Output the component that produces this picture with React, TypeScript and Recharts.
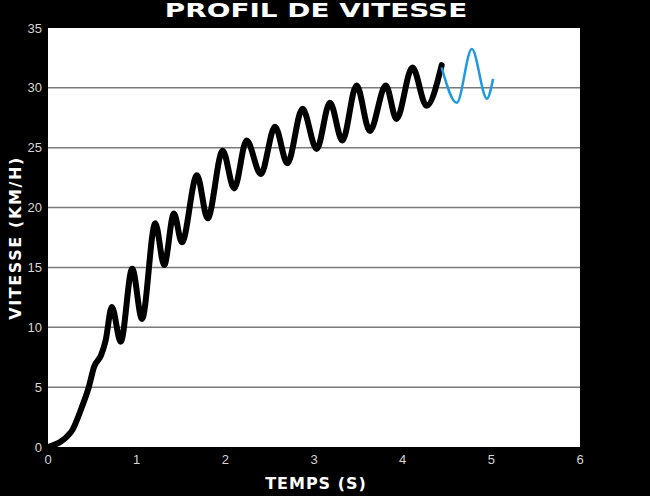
import { CartesianGrid, Line, LineChart, XAxis, YAxis } from "recharts";

// temps (s) / vitesse (km/h)
const mesureTemps = [
  0, 0.26, 0.38, 0.46, 0.52, 0.6, 0.65, 0.72, 0.82, 0.95, 1.06, 1.21, 1.31,
  1.42, 1.51, 1.68, 1.8, 1.97, 2.1, 2.24, 2.4, 2.56, 2.7, 2.87, 3.03, 3.18,
  3.32, 3.48, 3.63, 3.81, 3.93, 4.11, 4.27, 4.44,
];
const mesureVitesse = [
  0, 1.25, 3.3, 5, 6.7, 7.7, 8.9, 11.7, 8.8, 14.9, 10.7, 18.7, 15.2, 19.5,
  17.1, 22.7, 19.1, 24.75, 21.6, 25.6, 22.8, 26.75, 23.7, 28.25, 24.9, 28.75,
  25.6, 30.2, 26.4, 30.2, 27.4, 31.7, 28.5, 31.9,
];

const prevTemps = [4.44, 4.61, 4.78, 4.95, 5.02];
const prevVitesse = [31.7, 28.75, 33.25, 29.1, 30.75];

const xTicks = [0, 1, 2, 3, 4, 5, 6];
const yTicks = [0, 5, 10, 15, 20, 25, 30, 35];
const gridValues = [5, 10, 15, 20, 25, 30];

const mesure = mesureTemps.map((t, i) => ({ t, v: mesureVitesse[i] }));
const prevision = prevTemps.map((t, i) => ({ t, v: prevVitesse[i] }));

const tickStyle = { fill: "#d6d6d6", fontSize: 13, fontFamily: "Liberation Sans, Arial, sans-serif" };
const labelFont = "'DejaVu Sans', Verdana, sans-serif";

export default function App() {
  return (
    <div
      style={{
        position: "absolute",
        left: 0,
        top: 0,
        width: 650,
        height: 496,
        background: "#000",
        overflow: "hidden",
      }}
    >
      <LineChart
        width={650}
        height={496}
        margin={{ top: 28, right: 70, bottom: 0, left: 0 }}
      >
        <CartesianGrid
          fill="#fff"
          vertical={false}
          horizontalValues={gridValues}
          stroke="#7a7a7a"
          strokeWidth={1.5}
        />
        <XAxis
          type="number"
          dataKey="t"
          domain={[0, 6]}
          ticks={xTicks}
          height={49}
          axisLine={false}
          tickLine={false}
          tick={tickStyle}
          allowDuplicatedCategory={false}
        />
        <YAxis
          type="number"
          domain={[0, 35]}
          ticks={yTicks}
          width={48}
          axisLine={false}
          tickLine={false}
          tickMargin={0}
          tick={tickStyle}
        />
        <Line
          data={mesure}
          dataKey="v"
          type="monotone"
          stroke="#000"
          strokeWidth={6}
          strokeLinecap="round"
          strokeLinejoin="round"
          dot={false}
          activeDot={false}
          isAnimationActive={false}
        />
        <Line
          data={prevision}
          dataKey="v"
          type="monotone"
          stroke="#1f9ae0"
          strokeWidth={2.5}
          dot={false}
          activeDot={false}
          isAnimationActive={false}
        />
      </LineChart>
      <div
        style={{
          position: "absolute",
          left: 0,
          width: 632,
          top: 0,
          lineHeight: "22px",
          textAlign: "center",
          color: "#fff",
          fontFamily: labelFont,
          fontWeight: "bold",
          fontSize: 19.5,
          transform: "scaleX(1.43)",
          transformOrigin: "316px 0",
          whiteSpace: "nowrap",
        }}
      >
        PROFIL DE VITESSE
      </div>
      <div
        style={{
          position: "absolute",
          left: 0,
          width: 632,
          top: 474,
          textAlign: "center",
          color: "#fff",
          fontFamily: labelFont,
          fontWeight: "bold",
          fontSize: 16,
          letterSpacing: 1,
          whiteSpace: "nowrap",
        }}
      >
        TEMPS (S)
      </div>
      <div
        style={{
          position: "absolute",
          left: 15,
          top: 238,
          color: "#fff",
          fontFamily: labelFont,
          fontWeight: "bold",
          fontSize: 16,
          letterSpacing: 1.6,
          whiteSpace: "nowrap",
          transform: "translate(-50%, -50%) rotate(-90deg)",
        }}
      >
        VITESSE (KM/H)
      </div>
    </div>
  );
}
